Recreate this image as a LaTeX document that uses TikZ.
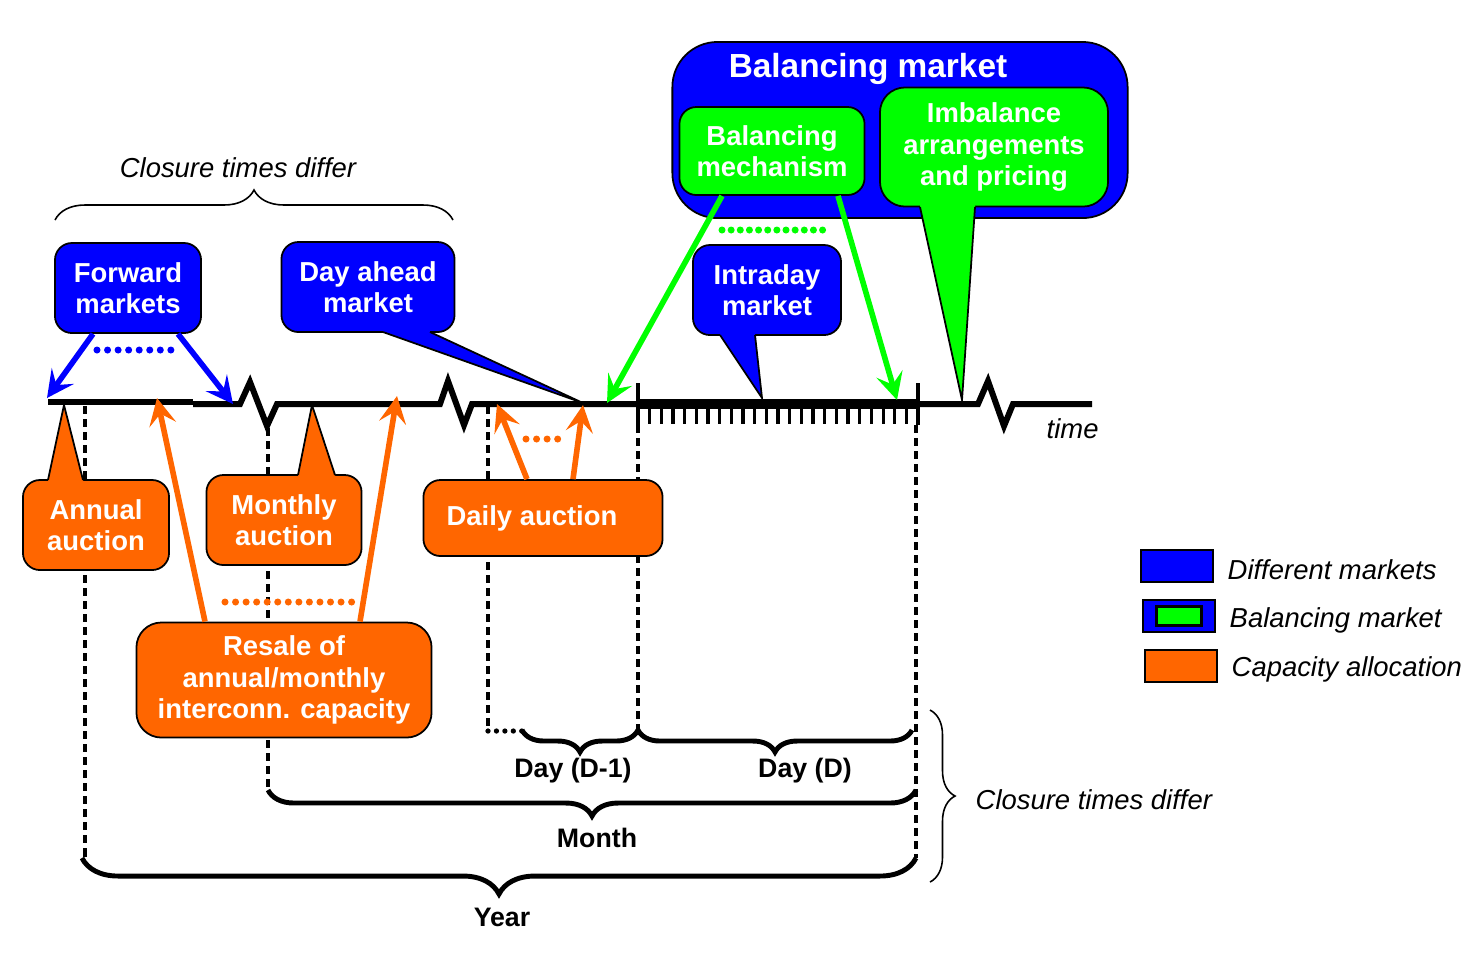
\documentclass[tikz,border=0pt]{standalone}
\usepackage{fontspec}
\setmainfont{Liberation Sans}
\usepackage{tikz}
\usetikzlibrary{arrows.meta}
\usetikzlibrary{positioning}
\usetikzlibrary{calc}
\usetikzlibrary{decorations.pathreplacing}
\definecolor{mktblue}{RGB}{0,0,255}
\definecolor{balgreen}{RGB}{0,255,0}
\definecolor{caporange}{RGB}{255,102,0}
\tikzset{
	box/.style={draw=black, line width=0.5pt, rounded corners=0.17cm, text=white,
		align=center, inner sep=0pt, font=\fontsize{7.8}{8.9}\selectfont\bfseries},
	market/.style={box, fill=mktblue},
	balance/.style={box, fill=balgreen},
	capacity/.style={box, fill=caporange},
	timeline/.style={draw=black, line width=1.7pt},
	dashline/.style={draw=black, line width=1.1pt, dash pattern=on 2.3pt off 1.4pt},
	dotline/.style={line width=2pt, line cap=round, dash pattern=on 0pt off 3pt},
	push/.style={line width=1.6pt, -{Stealth[length=0.27cm, width=0.27cm, inset=0.11cm]}},
	bigbrace/.style={decorate, draw=black, line width=1.4pt},
	thinbrace/.style={decorate, draw=black, line width=0.45pt},
	lbl/.style={font=\fontsize{7.6}{8.9}\selectfont\bfseries, inner sep=0pt},
	note/.style={font=\fontsize{7.8}{8.9}\selectfont\itshape, inner sep=0pt},
	legbox/.style={draw=black, line width=0.8pt, minimum width=0.72cm, minimum height=0.32cm, inner sep=0pt},
}
% tail of a callout: colour, base 1, tip, base 2, shift into the box
\newcommand{\calltail}[5]{%
	\fill[#1] ($(#2)+(0,#5)$) -- (#2) -- (#3) -- (#4) -- ($(#4)+(0,#5)$) -- cycle;
	\draw[line width=0.5pt] (#2) -- (#3) -- (#4);}

\begin{document}
\begin{tikzpicture}[x=0.01cm, y=-0.01cm]
	\useasboundingbox (0,0) rectangle (1473,953);

	% dashed guides
	\draw[dashline] (85,406) -- (85,858);
	\draw[dashline] (268,428) -- (268,792);
	\draw[dashline] (488,406) -- (488,731);
	\draw[dotline, line width=1.5pt, dash pattern=on 0pt off 2.4pt] (488,731) -- (522,731);
	\draw[dashline] (638,425) -- (638,735);
	\draw[dashline] (916,425) -- (916,858);

	% time axis
	\draw[timeline] (48,402) -- (193,402);
	\draw[timeline] (193,404) -- (240,404) -- (250,382) -- (267,426) -- (277,404) -- (440,404)
		-- (448,381) -- (464,425) -- (472,404) -- (638,404);
	\draw[timeline, line width=2.8pt] (638,404) -- (918,404);
	\draw[timeline] (918,404) -- (978,404) -- (988,381) -- (1004,426) -- (1013,404) -- (1092,404);
	\draw[line width=1.2pt] (638,383) -- (638,425);
	\draw[line width=1.2pt] (918,383) -- (918,425);
	\foreach \k in {1,...,23}
		\draw[line width=0.9pt] (638+11.67*\k,404) -- (638+11.67*\k,424);
	\node[note, anchor=west] (time) at (1046,429) {time};

	% tips on the axis
	\coordinate (fwdL) at (47,398);
	\coordinate (fwdR) at (233,404);
	\coordinate (resL) at (157,398);
	\coordinate (resR) at (397,396);
	\coordinate (dayL) at (497,404);
	\coordinate (dayR) at (583,405);
	\coordinate (mechL) at (607,403);
	\coordinate (mechR) at (897,400);

	% markets
	\node[market, minimum width=1.46cm, minimum height=0.90cm] (fwd) at (128,288) {Forward\\markets};
	\node[market, minimum width=1.73cm, minimum height=0.90cm] (dayahead) at (368,287) {Day ahead\\market};
	\calltail{mktblue}{383,332}{583,403}{430,332}{-3}
	\node[market, minimum width=1.48cm, minimum height=0.90cm] (intraday) at (767,290) {Intraday\\market};
	\calltail{mktblue}{720,335}{762,398}{755,335}{-3}

	% balancing market
	\node[market, rounded corners=0.45cm, minimum width=4.55cm, minimum height=1.76cm] (balmkt) at (900,130) {};
	\node[text=white, inner sep=0pt, font=\fontsize{9.5}{11}\selectfont\bfseries] (baltitle) at (868,69) {Balancing market};
	\node[balance, minimum width=1.85cm, minimum height=0.88cm] (mech) at (772,151) {Balancing\\mechanism};
	\node[balance, rounded corners=0.25cm, minimum width=2.28cm, minimum height=1.19cm] (imbal) at (994,147) {Imbalance\\arrangements\\and pricing};
	\calltail{balgreen}{920,207}{962,400}{975,207}{-3}

	% capacity allocation
	\node[capacity, minimum width=1.46cm, minimum height=0.90cm] (annual) at (96,525) {Annual\\auction};
	\calltail{caporange}{48,480}{64,405}{83,480}{3}
	\node[capacity, minimum width=1.55cm, minimum height=0.90cm] (monthly) at (284,520) {Monthly\\auction};
	\calltail{caporange}{298,475}{312,405}{335,475}{3}
	\node[capacity, minimum width=2.39cm, minimum height=0.76cm] (daily) at (543,518) {Daily auction\hspace{0.22cm}};
	\node[capacity, rounded corners=0.25cm, minimum width=2.95cm, minimum height=1.15cm] (resale) at (284,680) {Resale of\\annual/monthly\\interconn. capacity};

	% arrows to the axis
	\draw[push, mktblue] ($(fwd.south)+(-35,0)$) -- (fwdL);
	\draw[push, mktblue] ($(fwd.south)+(50,0)$) -- (fwdR);
	\draw[dotline, mktblue] (97,350) -- (178,350);
	\draw[push, balgreen] ($(mech.south)+(-50,0)$) -- (mechL);
	\draw[push, balgreen] ($(mech.south)+(66,0)$) -- (mechR);
	\draw[dotline, balgreen, dash pattern=on 0pt off 2.6pt] (722,230) -- (828,230);
	\draw[push, caporange] ($(resale.north)+(-79,0)$) -- (resL);
	\draw[push, caporange] ($(resale.north)+(76,0)$) -- (resR);
	\draw[dotline, caporange] (225,602) -- (353,602);
	\draw[push, caporange] ($(daily.north)+(-16,0)$) -- (dayL);
	\draw[push, caporange] ($(daily.north)+(30,0)$) -- (dayR);
	\draw[dotline, caporange] (526,439) -- (563,439);

	% periods
	\draw[bigbrace, decoration={brace, mirror, amplitude=0.22cm}] (522,730) -- (638,730);
	\node[lbl] (dprev) at (573,771) {Day (D-1)};
	\draw[bigbrace, decoration={brace, mirror, amplitude=0.22cm}] (638,730) -- (912,730);
	\node[lbl] (dcur) at (805,771) {Day (D)};
	\draw[bigbrace, decoration={brace, mirror, amplitude=0.26cm}] (268,790) -- (916,790);
	\node[lbl] (month) at (597,838) {Month};
	\draw[bigbrace, decoration={brace, mirror, amplitude=0.36cm}] (82,858) -- (916,858);
	\node[lbl] (year) at (502,917) {Year};

	% closure times
	\draw[thinbrace, decoration={brace, amplitude=0.30cm}] (55,220) -- (453,220);
	\node[note] (closetop) at (238,168) {Closure times differ};
	\draw[thinbrace, decoration={brace, amplitude=0.25cm}] (930,710) -- (930,882);
	\node[note, anchor=west] (closeright) at (975,800) {Closure times differ};

	% legend
	\node[legbox, fill=mktblue] (lgmkt) at (1177,566) {};
	\node[note, anchor=west] (lgmkttext) at (1227,570) {Different markets};
	\node[legbox, fill=mktblue] (lgbal) at (1179,616) {};
	\node[draw=black, line width=0.6pt, fill=balgreen, minimum width=0.45cm, minimum height=0.19cm, inner sep=0pt] (lgbalin) at (lgbal) {};
	\node[note, anchor=west] (lgbaltext) at (1229,620) {Balancing market};
	\node[legbox, fill=caporange] (lgcap) at (1181,666) {};
	\node[note, anchor=west] (lgcaptext) at (1231,669) {Capacity allocation};
\end{tikzpicture}
\end{document}
